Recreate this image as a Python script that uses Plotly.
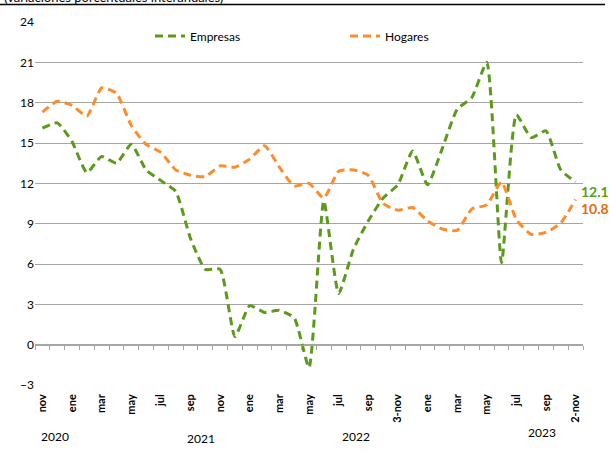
import plotly.graph_objects as go

# ---- data ----
months_n = 37
tick_labels = ["nov", "ene", "mar", "may", "jul", "sep", "nov", "ene", "mar", "may",
               "jul", "sep", "3-nov", "ene", "mar", "may", "jul", "sep", "2-nov"]
years = ["2020", "2021", "2022", "2023"]
year_pos = [0.85, 10.7, 21.2, 33.7]
year_ypix = [437, 438, 436, 432]

empresas = [16.1, 16.5, 15.1, 12.8, 14.0, 13.5, 14.9, 13.0, 12.2, 11.4, 7.9, 5.6, 5.6,
            0.6, 2.9, 2.4, 2.55, 2.0, -1.7, 10.7, 3.8, 7.1, 9.2, 10.9, 11.9, 14.4, 11.9,
            14.6, 17.5, 18.4, 21.0, 6.1, 17.1, 15.4, 15.9, 13.0, 12.1]
hogares = [17.3, 18.1, 17.8, 17.0, 19.1, 18.7, 16.3, 14.9, 14.3, 13.0, 12.6, 12.5, 13.3,
           13.2, 13.8, 14.8, 13.2, 11.8, 12.0, 10.9, 12.9, 13.0, 12.6, 10.5, 10.0, 10.2,
           9.2, 8.6, 8.5, 10.1, 10.4, 12.1, 9.3, 8.2, 8.35, 9.05, 10.8]

x = list(range(months_n))
GREEN = "#5B9A1B"
ORANGE = "#FF8C2A"
ORANGE_LBL = "#E36C0A"
GRID = "#A6A6A6"
FONT = "Lato"

W, H = 610, 453
ML, MR, MT, MB = 35, 27, 22, 68
PH = H - MT - MB
PW = W - ML - MR

fig = go.Figure()
fig.add_trace(go.Scatter(x=x, y=empresas, name="Empresas", mode="lines",
                         line=dict(color=GREEN, width=3, dash="8px,5px", shape="spline", smoothing=0.5)))
fig.add_trace(go.Scatter(x=x, y=hogares, name="Hogares", mode="lines",
                         line=dict(color=ORANGE, width=3, dash="8px,5px", shape="spline", smoothing=0.5)))
# invisible trace to activate the zero-line axis with tick marks
fig.add_trace(go.Scatter(x=[0], y=[0], xaxis="x2", mode="markers", marker=dict(opacity=0),
                         showlegend=False, hoverinfo="skip"))

fig.update_layout(
    width=W, height=H,
    margin=dict(l=ML, r=MR, t=MT, b=MB, autoexpand=False),
    paper_bgcolor="white", plot_bgcolor="white",
    font=dict(family=FONT, size=12, color="#000000"),
    xaxis=dict(range=[-0.5, months_n - 0.5], tickmode="array",
               tickvals=list(range(0, months_n, 2)), ticktext=tick_labels,
               tickangle=-90, tickfont=dict(size=11, family=FONT, color="#000000", weight="bold"),
               ticklabelstandoff=6,
               showgrid=False, zeroline=False, showline=False, ticks="", automargin=False),
    xaxis2=dict(overlaying="x", anchor="free", position=3 / 27, range=[-0.5, months_n - 0.5],
                tickmode="array", tickvals=[i - 0.5 for i in range(months_n + 1)],
                showticklabels=False, ticks="outside", ticklen=4, tickcolor=GRID,
                showline=True, linecolor=GRID, linewidth=1, showgrid=False, zeroline=False,
                side="bottom"),
    yaxis=dict(range=[-3, 24], tickmode="array", tickvals=list(range(-3, 25, 3)),
               showgrid=True, gridcolor=GRID, gridwidth=1, zeroline=False, showline=False,
               tickfont=dict(size=12, family=FONT, color="#000000"), automargin=False),
    legend=dict(orientation="h", x=(150 - ML) / PW, xanchor="left",
                y=1 - (36 - MT) / PH, yanchor="middle", entrywidth=150, entrywidthmode="pixels",
                font=dict(size=12, family=FONT, color="#000000"), bgcolor="rgba(0,0,0,0)"),
    showlegend=True,
)

ann = []
for yr, xp, yp in zip(years, year_pos, year_ypix):
    ann.append(dict(text=yr, x=xp, xref="x", y=1 - (yp - MT) / PH, yref="paper", yanchor="middle",
                    showarrow=False, font=dict(size=12, family=FONT, color="#000000")))
ann.append(dict(text="<b>%.1f</b>" % empresas[-1], x=(579 - ML) / PW, xref="paper", xanchor="left",
                y=empresas[-1], yref="y", yshift=-10, showarrow=False,
                font=dict(size=14, family=FONT, color=GREEN)))
ann.append(dict(text="<b>%.1f</b>" % hogares[-1], x=(579 - ML) / PW, xref="paper", xanchor="left",
                y=hogares[-1], yref="y", yshift=-9, showarrow=False,
                font=dict(size=14, family=FONT, color=ORANGE_LBL)))
ann.append(dict(text="(variaciones porcentuales interanuales)", x=(2 - ML) / PW, xref="paper",
                xanchor="left", y=1 + (MT + 3) / PH, yref="paper", yanchor="middle",
                showarrow=False, font=dict(size=13, family=FONT, color="#000000")))
fig.update_layout(annotations=ann)

fig.add_shape(type="line", xref="paper", yref="paper", x0=-ML / PW, x1=(605 - ML) / PW,
              y0=1 + (MT - 4.5) / PH, y1=1 + (MT - 4.5) / PH, line=dict(color="#000000", width=1.5))

fig.write_html("out.html", config={"displayModeBar": False},
               post_script="document.body.style.margin='0';document.body.style.overflow='hidden';")
